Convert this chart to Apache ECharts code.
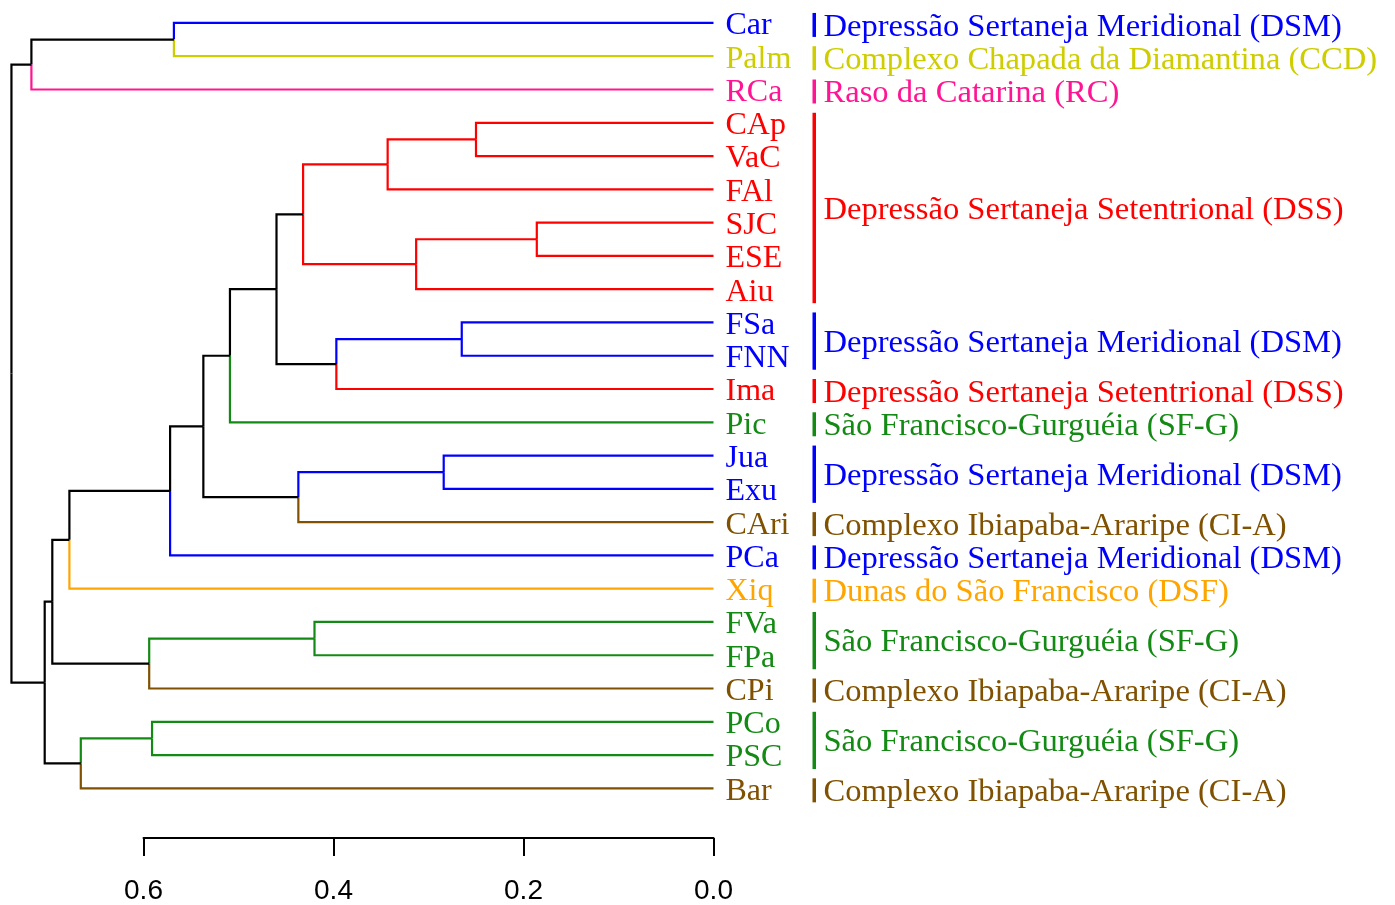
<!DOCTYPE html>
<html>
<head>
<meta charset="utf-8">
<script src="https://cdn.jsdelivr.net/npm/echarts@6/dist/echarts.min.js"></script>
<style>
  html, body { margin: 0; padding: 0; background: #fff; }
  #chart { width: 1395px; height: 905px; }
</style>
</head>
<body>
<div id="chart"></div>
<script>
// leaves, top to bottom
const leaves = ['Car', 'Palm', 'RCa', 'CAp', 'VaC', 'FAl', 'SJC', 'ESE', 'Aiu', 'FSa', 'FNN', 'Ima',
  'Pic', 'Jua', 'Exu', 'CAri', 'PCa', 'Xiq', 'FVa', 'FPa', 'CPi', 'PCo', 'PSC', 'Bar'];
const leafRegion = ['DSM', 'CCD', 'RC', 'DSS', 'DSS', 'DSS', 'DSS', 'DSS', 'DSS', 'DSM', 'DSM', 'DSS',
  'SFG', 'DSM', 'DSM', 'CIA', 'DSM', 'DSF', 'SFG', 'SFG', 'CIA', 'SFG', 'SFG', 'CIA'];

// merges m1..m23 (children, height, colour of the branch above the node; '' = black)
const mergeLeft   = ['SJC', 'CAp', 'FSa', 'Jua', 'm1', 'm2', 'm3', 'FVa', 'm6', 'm4', 'm9', 'm11',
  'm12', 'Car', 'm13', 'PCo', 'm8', 'm16', 'm15', 'm19', 'm20', 'm14', 'm22'];
const mergeRight  = ['ESE', 'VaC', 'FNN', 'Exu', 'Aiu', 'FAl', 'Ima', 'FPa', 'm5', 'CAri', 'm7', 'Pic',
  'm10', 'Palm', 'PCa', 'PSC', 'CPi', 'Bar', 'Xiq', 'm17', 'm18', 'RCa', 'm21'];
const mergeHeight = [0.186, 0.250, 0.265, 0.284, 0.313, 0.343, 0.397, 0.420, 0.432, 0.437, 0.460, 0.509,
  0.537, 0.568, 0.572, 0.591, 0.594, 0.666, 0.678, 0.696, 0.704, 0.718, 0.739];
const mergeRegion = ['DSS', 'DSS', 'DSM', 'DSM', 'DSS', 'DSS', '', 'SFG', '', '', '', '',
  '', '', '', 'SFG', '', '', '', '', '', '', ''];

// region brackets on the right
const groupStart  = [0, 1, 2, 3, 9, 11, 12, 13, 15, 16, 17, 18, 20, 21, 23];
const groupEnd    = [0, 1, 2, 8, 10, 11, 12, 14, 15, 16, 17, 19, 20, 22, 23];
const groupRegion = ['DSM', 'CCD', 'RC', 'DSS', 'DSM', 'DSS', 'SFG', 'DSM', 'CIA', 'DSM', 'DSF', 'SFG', 'CIA', 'SFG', 'CIA'];

const xTicks = [0, 0.2, 0.4, 0.6];

const regionName = {
  DSM: 'Depressão Sertaneja Meridional (DSM)',
  CCD: 'Complexo Chapada da Diamantina (CCD)',
  RC: 'Raso da Catarina (RC)',
  DSS: 'Depressão Sertaneja Setentrional (DSS)',
  SFG: 'São Francisco-Gurguéia (SF-G)',
  CIA: 'Complexo Ibiapaba-Araripe (CI-A)',
  DSF: 'Dunas do São Francisco (DSF)'
};
const regionColour = {
  DSM: '#0000FF', CCD: '#CDCD00', RC: '#FF1493', DSS: '#FF0000',
  SFG: '#138A13', CIA: '#7F5100', DSF: '#FFA500'
};

const serif = '"Liberation Serif", "Times New Roman", serif';

// build the branch list (R-style rectangular edges)
const pos = {}, hgt = {}, col = {};
leaves.forEach((n, i) => {
  pos[n] = i;
  hgt[n] = 0;
  col[n] = regionColour[leafRegion[i]];
});
const edges = [];
mergeLeft.forEach((l, k) => {
  const id = 'm' + (k + 1);
  const r = mergeRight[k];
  pos[id] = (pos[l] + pos[r]) / 2;
  hgt[id] = mergeHeight[k];
  col[id] = mergeRegion[k] ? regionColour[mergeRegion[k]] : '#000';
  [l, r].forEach((c) => {
    edges.push({ hp: hgt[id], yp: pos[id], hc: hgt[c], yc: pos[c], col: col[c] });
  });
});

const rich = {};
Object.keys(regionColour).forEach((k) => {
  rich[k] = { color: regionColour[k], fontSize: 32, fontFamily: serif, padding: [6, 0, 0, 0] };
});

const chart = echarts.init(document.getElementById('chart'));

const option = {
  animation: false,
  backgroundColor: '#fff',
  grid: { left: 143.5, width: 570, top: 6.3, height: 799.2 },
  xAxis: {
    type: 'value',
    inverse: true,
    min: 0,
    max: 0.6,
    interval: 0.2,
    offset: 33,
    axisLine: { show: true, onZero: false, lineStyle: { color: '#000', width: 2 } },
    axisTick: { show: true, length: 18, lineStyle: { color: '#000', width: 2 } },
    axisLabel: {
      margin: 39,
      color: '#000',
      fontSize: 28,
      fontFamily: '"Liberation Sans", Arial, sans-serif',
      formatter: (v) => (xTicks.includes(Math.round(v * 10) / 10) ? v.toFixed(1) : '')
    },
    splitLine: { show: false }
  },
  yAxis: [
    {
      type: 'value',
      inverse: true,
      min: -0.5,
      max: 23.5,
      show: false
    },
    {
      type: 'category',
      inverse: true,
      position: 'right',
      data: leaves,
      axisLine: { show: false },
      axisTick: { show: false },
      splitLine: { show: false },
      axisLabel: {
        interval: 0,
        margin: 12,
        fontSize: 32,
        fontFamily: serif,
        formatter: (v, i) => '{' + leafRegion[i] + '|' + v + '}',
        rich: rich
      }
    }
  ],
  series: [
    {
      type: 'custom',
      xAxisIndex: 0,
      yAxisIndex: 0,
      clip: false,
      data: edges.map((e) => [e.hp, e.yp, e.hc, e.yc]),
      renderItem: (params, api) => {
        const e = edges[params.dataIndex];
        const a = api.coord([api.value(0), api.value(1)]);
        const b = api.coord([api.value(0), api.value(3)]);
        const c = api.coord([api.value(2), api.value(3)]);
        return {
          type: 'polyline',
          shape: { points: [a, b, c] },
          style: { stroke: e.col, lineWidth: 2.2, fill: null }
        };
      }
    },
    {
      type: 'custom',
      xAxisIndex: 0,
      yAxisIndex: 0,
      clip: false,
      data: groupStart.map((s, i) => [0, s, groupEnd[i]]),
      renderItem: (params, api) => {
        const g = groupRegion[params.dataIndex];
        const p0 = api.coord([0, api.value(1)]);
        const p1 = api.coord([0, api.value(2)]);
        const y0 = p0[1] - 10;
        const y1 = p1[1] + 14;
        return {
          type: 'group',
          children: [
            {
              type: 'rect',
              shape: { x: p0[0] + 99, y: y0, width: 3.5, height: y1 - y0 },
              style: { fill: regionColour[g] }
            },
            {
              type: 'text',
              x: p0[0] + 110,
              y: (p0[1] + p1[1]) / 2 + 4,
              style: {
                text: regionName[g],
                fill: regionColour[g],
                fontSize: 32.6,
                fontFamily: serif,
                align: 'left',
                verticalAlign: 'middle'
              }
            }
          ]
        };
      }
    }
  ]
};

chart.setOption(option);
</script>
</body>
</html>
